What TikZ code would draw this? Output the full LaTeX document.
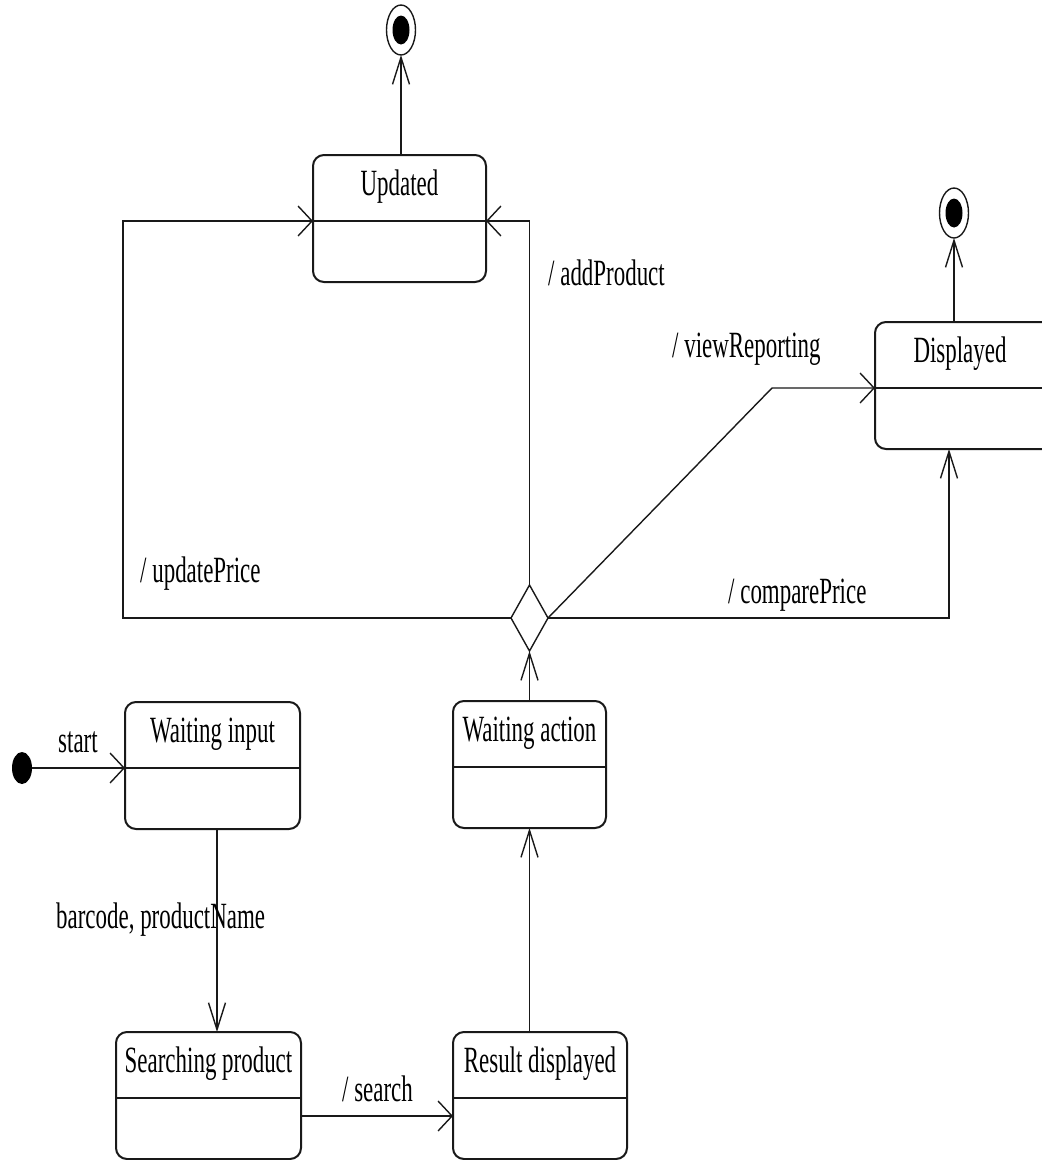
\documentclass[tikz,border=0pt]{standalone}
\usepackage{fontspec}
\setmainfont{Liberation Serif}[FakeStretch=0.62]
\usetikzlibrary{arrows.meta,shapes.geometric,calc}

\begin{document}
\begin{tikzpicture}[x=1pt,y=-1pt,
  statebox/.style={draw=black!90, line width=2pt, rounded corners=11pt,
    minimum height=127pt, inner sep=0pt, outer sep=0pt, anchor=north west},
  divider/.style={draw=black!90, line width=1.8pt},
  statename/.style={anchor=base, inner sep=0pt, font=\fontsize{37}{44}\selectfont},
  lbl/.style={anchor=base west, inner sep=0pt, font=\fontsize{37}{44}\selectfont},
  flow/.style={draw=black!90, line width=1.4pt},
  vtip/.style={flow, -{Straight Barb[length=27pt,width=17pt]}},
  htip/.style={flow, -{Straight Barb[length=14pt,width=30pt]}},
  fin/.style={ellipse, draw=black!90, line width=1.4pt, minimum width=29pt,
    minimum height=50pt, inner sep=0pt, outer sep=0pt},
  fincore/.style={ellipse, fill=black, minimum width=17pt, minimum height=29pt,
    inner sep=0pt, outer sep=0pt},
  choice/.style={diamond, draw=black!90, line width=1.4pt, shape aspect=0.56,
    minimum width=37pt, minimum height=66pt, inner sep=0pt, outer sep=0pt}
]
\useasboundingbox (0,0) rectangle (1042,1160);

% states
\node[statebox, minimum width=173pt] (upd) at (313,155) {};
\node[statebox, minimum width=180pt] (dsp) at (875,322) {};
\node[statebox, minimum width=153pt] (wa)  at (453,701) {};
\node[statebox, minimum width=175pt] (wi)  at (125,702) {};
\node[statebox, minimum width=185pt] (sp)  at (116,1032) {};
\node[statebox, minimum width=174pt] (rd)  at (453,1032) {};

% compartment dividers
\foreach \s in {upd,dsp,wa,wi,sp,rd}{
  \draw[divider] ([yshift=-66pt]\s.north west) coordinate (\s-dl)
    -- ([yshift=-66pt]\s.north east) coordinate (\s-dr);
}

% state names
\node[statename] (upd-name) at ([yshift=-40pt]upd.north) {Updated};
\node[statename] (dsp-name) at ([xshift=85pt,yshift=-40pt]dsp.north west) {Displayed};
\node[statename] (wa-name)  at ([yshift=-40pt]wa.north)  {Waiting action};
\node[statename] (wi-name)  at ([yshift=-40pt]wi.north)  {Waiting input};
\node[statename] (sp-name)  at ([yshift=-40pt]sp.north)  {Searching product};
\node[statename] (rd-name)  at ([yshift=-40pt]rd.north)  {Result displayed};

% pseudo states
\node[ellipse, fill=black, minimum width=20pt, minimum height=32pt,
  inner sep=0pt, outer sep=0pt] (init) at (22,768) {};
\node[fin] (fin1) at (401,30) {};
\node[fincore] (fin1c) at (fin1) {};
\node[fin] (fin2) at (954,213) {};
\node[fincore] (fin2c) at (fin2) {};
\node[choice] (dec) at (529.5,618) {};

% bend points
\coordinate (loopL) at (123,618);
\coordinate (bend) at (772,388);
\coordinate (cmpC) at (949,618);

% transitions
\draw[htip] (init) -- (wi-dl);
\draw[vtip] ([xshift=4.5pt]wi.south) -- ([xshift=4.5pt]wi.south |- sp.north);
\draw[htip] ([yshift=-84pt]sp.north east) -- ([yshift=-84pt]rd.north west);
\draw[vtip] (wa.south |- rd.north) -- (wa.south);
\draw[vtip] (wa.north) -- (dec.south);
\draw[htip] (dec.north) |- (upd-dr);
\draw[htip] (dec.west) -- (loopL) |- (upd-dl);
\draw[htip] (dec.east) -- (bend) -- (dsp-dl);
\draw[vtip] (dec.east) -- (cmpC) -- (cmpC |- dsp.south);
\draw[vtip] (fin1.south |- upd.north) -- (fin1.south);
\draw[vtip] (fin2.south |- dsp.north) -- (fin2.south);

% transition labels
\node[lbl] (l-start) at (58,752) {start};
\node[lbl] (l-bar) at (56,928) {barcode, productName};
\node[lbl] (l-search) at (342,1101) {/ search};
\node[lbl] (l-add) at (548,285) {/ addProduct};
\node[lbl] (l-view) at (672,357) {/ viewReporting};
\node[lbl] (l-upd) at (140,582) {/ updatePrice};
\node[lbl] (l-cmp) at (728,603) {/ comparePrice};
\end{tikzpicture}
\end{document}
